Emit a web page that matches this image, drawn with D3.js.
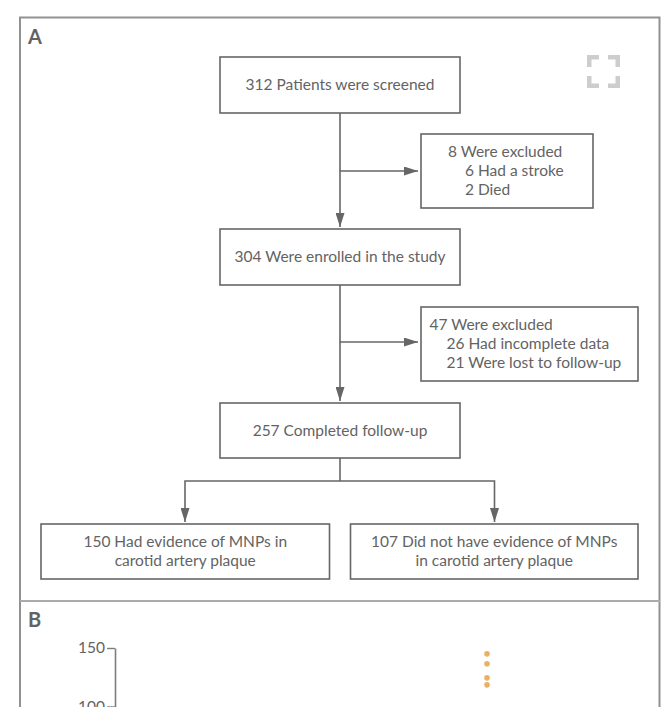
<!DOCTYPE html>
<html>
<head>
<meta charset="utf-8">
<script src="https://cdn.jsdelivr.net/npm/d3@7"></script>
<style>
  body { margin: 0; background: #fff; overflow: hidden; }
  svg { display: block; }
  text { font-family: Lato, sans-serif; fill: #636363; }
</style>
</head>
<body>
<div id="chart"><svg></svg></div>
<script>
// panel A, flow counts and their wording
const flowCounts = [312, 8, 304, 47, 257, 150, 107];
const flowLabels = [
  ['Patients were screened'],
  ['Were excluded', '6 Had a stroke', '2 Died'],
  ['Were enrolled in the study'],
  ['Were excluded', '26 Had incomplete data', '21 Were lost to follow-up'],
  ['Completed follow-up'],
  ['Had evidence of MNPs in', 'carotid artery plaque'],
  ['Did not have evidence of MNPs', 'in carotid artery plaque']
];

// panel B, the part of the plot that shows in the crop
const yTicks = [0, 50, 100, 150];
const outlierValues = [145, 136.5, 124.5, 118.5];

const width = 661;
const height = 707;
const ink = '#666';
const textSize = 15.5;

const svg = d3.select('#chart svg')
  .attr('width', width)
  .attr('height', height)
  .attr('viewBox', [0, 0, width, height]);

const defs = svg.append('defs');
defs.append('marker')
  .attr('id', 'head')
  .attr('markerUnits', 'userSpaceOnUse')
  .attr('viewBox', '0 0 14 9')
  .attr('refX', 14)
  .attr('refY', 4.5)
  .attr('markerWidth', 14)
  .attr('markerHeight', 9)
  .attr('orient', 'auto')
  .append('path')
  .attr('d', 'M0,0L14,4.5L0,9Z')
  .attr('fill', ink);

// outer frame and the rule between the panels
svg.append('path')
  .attr('d', 'M20,720V17.5H659.5V720')
  .attr('fill', 'none')
  .attr('stroke', '#919191')
  .attr('stroke-width', 2);
svg.append('line')
  .attr('x1', 20).attr('x2', 660)
  .attr('y1', 601).attr('y2', 601)
  .attr('stroke', '#ababab')
  .attr('stroke-width', 2);

svg.selectAll('.panel')
  .data([['A', 37], ['B', 620]])
  .join('text')
  .attr('class', 'panel')
  .attr('x', 28)
  .attr('y', d => d[1])
  .attr('dy', '0.36em')
  .attr('font-size', 20)
  .attr('font-weight', 700)
  .text(d => d[0]);

// fullscreen corners
const corners = [[587, 55, 1, 1], [620, 55, -1, 1], [587, 88, 1, -1], [620, 88, -1, -1]];
svg.append('g')
  .selectAll('path')
  .data(corners)
  .join('path')
  .attr('transform', d => `translate(${d[0]},${d[1]}) scale(${d[2]},${d[3]})`)
  .attr('d', 'M0,0H12V4.5H4.5V12H0Z')
  .attr('fill', '#cdcdcd');

// box geometry, same order as flowCounts
const boxes = [
  { x0: 220, x1: 460, y0: 57, y1: 113 },
  { x0: 421, x1: 593, y0: 134, y1: 208, left: 448, indent: 17 },
  { x0: 220, x1: 460, y0: 229, y1: 285 },
  { x0: 421, x1: 638, y0: 307, y1: 381, left: 429.5, indent: 17 },
  { x0: 220, x1: 460, y0: 403, y1: 458 },
  { x0: 41, x1: 329.5, y0: 524, y1: 579 },
  { x0: 350.5, x1: 638, y0: 524, y1: 579 }
];

const flow = boxes.map((b, i) => ({ ...b, count: flowCounts[i], lines: flowLabels[i] }));
const lineStep = 19;

const node = svg.append('g')
  .selectAll('g')
  .data(flow)
  .join('g');

node.append('rect')
  .attr('x', d => d.x0)
  .attr('y', d => d.y0)
  .attr('width', d => d.x1 - d.x0)
  .attr('height', d => d.y1 - d.y0)
  .attr('fill', '#fff')
  .attr('stroke', ink)
  .attr('stroke-width', 1.6);

node.selectAll('text')
  .data(d => d.lines.map((line, i) => ({ box: d, line, i })))
  .join('text')
  .attr('font-size', textSize)
  .attr('dy', '0.35em')
  .attr('y', d => (d.box.y0 + d.box.y1) / 2 + (d.i - (d.box.lines.length - 1) / 2) * lineStep)
  .attr('x', d => d.box.left
    ? d.box.left + (d.i ? d.box.indent : 0)
    : (d.box.x0 + d.box.x1) / 2)
  .attr('text-anchor', d => d.box.left ? 'start' : 'middle')
  .text(d => d.i === 0 ? `${d.box.count} ${d.line}` : d.line);

// connectors between the boxes
const centerX = 340;
const connectors = [
  [[centerX, 113], [centerX, 227]],
  [[centerX, 171], [418, 171]],
  [[centerX, 285], [centerX, 401]],
  [[centerX, 342], [418, 342]],
  [[centerX, 458], [centerX, 481]],
  [[centerX, 481], [185, 481], [185, 522]],
  [[centerX, 481], [494.5, 481], [494.5, 522]]
];
const arrowed = [true, true, true, true, false, true, true];

svg.append('g')
  .selectAll('path')
  .data(connectors)
  .join('path')
  .attr('d', d3.line())
  .attr('fill', 'none')
  .attr('stroke', ink)
  .attr('stroke-width', 1.6)
  .attr('marker-end', (d, i) => arrowed[i] ? 'url(#head)' : null);

// panel B
const y = d3.scaleLinear().domain([0, 150]).range([823.5, 648]);

const axis = svg.append('g')
  .attr('transform', 'translate(115,0)')
  .call(d3.axisLeft(y).tickValues(yTicks).tickSize(8).tickSizeOuter(0).tickPadding(2));
axis.select('.domain').attr('stroke', '#7d7d7d').attr('stroke-width', 1.6);
axis.selectAll('.tick line').attr('stroke', '#7d7d7d').attr('stroke-width', 1.4);
axis.selectAll('.tick text')
  .attr('font-size', textSize)
  .attr('font-family', 'Lato, sans-serif')
  .attr('fill', '#636363');

svg.append('g')
  .selectAll('circle')
  .data(outlierValues)
  .join('circle')
  .attr('cx', 487)
  .attr('cy', d => y(d))
  .attr('r', 2.8)
  .attr('fill', '#ebb062');
</script>
</body>
</html>
